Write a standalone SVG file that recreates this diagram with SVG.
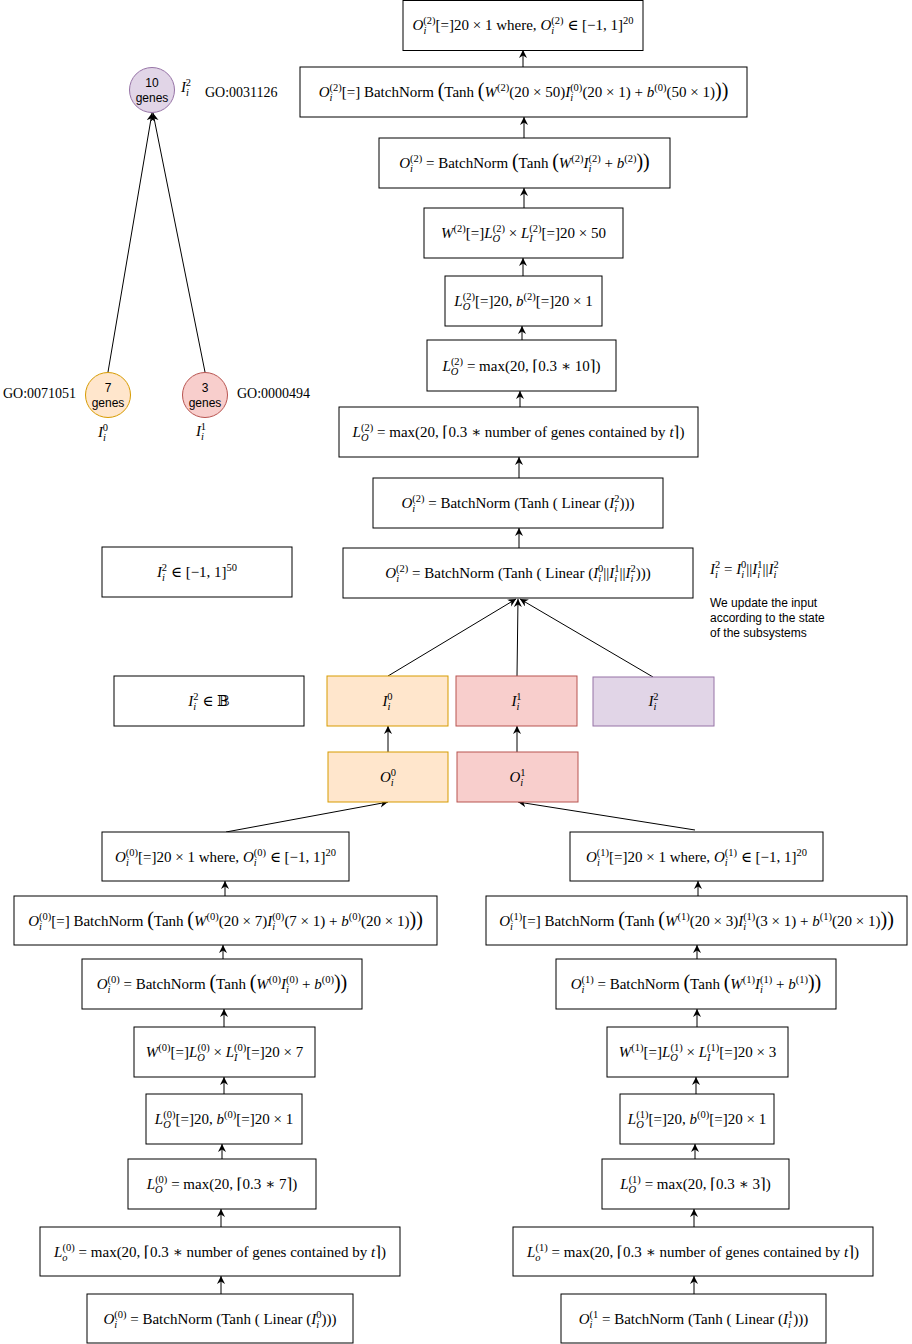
<svg xmlns="http://www.w3.org/2000/svg" width="912" height="1344" viewBox="0 0 912 1344">
<defs>
<marker id="a" markerWidth="10" markerHeight="10" refX="8" refY="4" orient="auto" markerUnits="userSpaceOnUse"><path d="M0,0 L8,4 L0,8 L2.5,4 Z" fill="#000"/></marker>
<style>
.b{fill:#fff;stroke:#000;stroke-width:1}
.m{font-family:"Liberation Serif","DejaVu Serif",serif;font-size:15px;fill:#000;text-anchor:middle}
.st{text-anchor:start}
.i{font-style:italic}
.s{font-size:10.5px}
.bp{font-size:20px}
.c{stroke:#000;stroke-width:1;fill:none;marker-end:url(#a)}
.h{font-family:"Liberation Sans",Arial,sans-serif;font-size:12px;fill:#000}
.g{font-family:"Liberation Serif","DejaVu Serif",serif;font-size:14px;fill:#000}
.or{fill:#ffe6cc;stroke:#d79b00;stroke-width:1}
.rd{fill:#f8cecc;stroke:#b85450;stroke-width:1}
.pu{fill:#e1d5e7;stroke:#9673a6;stroke-width:1}
</style>
</defs>
<rect width="912" height="1344" fill="#fff"/>

<g id="connectors">
<line class="c" x1="523" y1="67" x2="523" y2="50"/>
<line class="c" x1="524" y1="138" x2="524" y2="117"/>
<line class="c" x1="524" y1="208" x2="524" y2="188"/>
<line class="c" x1="523" y1="276" x2="523" y2="258"/>
<line class="c" x1="522" y1="340" x2="522" y2="326"/>
<line class="c" x1="520" y1="407" x2="520" y2="391"/>
<line class="c" x1="519" y1="478" x2="519" y2="457"/>
<line class="c" x1="519" y1="548" x2="519" y2="528"/>
<line class="c" x1="388" y1="676" x2="516" y2="599"/>
<line class="c" x1="517" y1="676" x2="518" y2="599"/>
<line class="c" x1="653" y1="677" x2="520" y2="599"/>
<line class="c" x1="388" y1="752" x2="388" y2="726"/>
<line class="c" x1="517" y1="752" x2="517" y2="726"/>
<line class="c" x1="226" y1="832" x2="388" y2="802"/>
<line class="c" x1="695" y1="830" x2="518" y2="802"/>
<line class="c" x1="108" y1="372" x2="152" y2="113"/>
<line class="c" x1="205" y1="372" x2="153" y2="113"/>
<line class="c" x1="225" y1="896" x2="225" y2="881"/>
<line class="c" x1="223" y1="959" x2="223" y2="945"/>
<line class="c" x1="224" y1="1027" x2="224" y2="1009"/>
<line class="c" x1="224" y1="1094" x2="224" y2="1077"/>
<line class="c" x1="222" y1="1159" x2="222" y2="1144"/>
<line class="c" x1="221" y1="1227" x2="221" y2="1209"/>
<line class="c" x1="221" y1="1294" x2="221" y2="1276"/>
<line class="c" x1="698" y1="896" x2="698" y2="881"/>
<line class="c" x1="697" y1="959" x2="697" y2="945"/>
<line class="c" x1="697" y1="1027" x2="697" y2="1009"/>
<line class="c" x1="696" y1="1094" x2="696" y2="1077"/>
<line class="c" x1="695" y1="1159" x2="695" y2="1144"/>
<line class="c" x1="694" y1="1227" x2="694" y2="1209"/>
<line class="c" x1="694" y1="1294" x2="694" y2="1276"/>
</g>

<g id="circle-go0031126">
<circle class="pu" cx="152" cy="90" r="22.5"/>
<text class="h" x="152" y="87" text-anchor="middle">10</text>
<text class="h" x="152" y="102" text-anchor="middle">genes</text>
<text class="m" x="186" y="92"><tspan class="i">I</tspan><tspan class="s i" dy="4">i</tspan><tspan class="s" dx="-3" dy="-10">2</tspan></text>
<text class="g" x="205" y="97">GO:0031126</text>
</g>
<g id="circle-go0071051">
<circle class="or" cx="108" cy="395" r="22.5"/>
<text class="h" x="108" y="392" text-anchor="middle">7</text>
<text class="h" x="108" y="407" text-anchor="middle">genes</text>
<text class="g" x="3" y="398">GO:0071051</text>
<text class="m" x="103" y="437"><tspan class="i">I</tspan><tspan class="s i" dy="4">i</tspan><tspan class="s" dx="-3" dy="-10">0</tspan></text>
</g>
<g id="circle-go0000494">
<circle class="rd" cx="205" cy="395" r="22.5"/>
<text class="h" x="205" y="392" text-anchor="middle">3</text>
<text class="h" x="205" y="407" text-anchor="middle">genes</text>
<text class="g" x="237" y="398">GO:0000494</text>
<text class="m" x="201" y="436"><tspan class="i">I</tspan><tspan class="s i" dy="4">i</tspan><tspan class="s" dx="-3" dy="-10">1</tspan></text>
</g>

<g id="t1">
<rect class="b" x="403" y="0.5" width="240" height="50"/>
<text class="m" x="523" y="30"><tspan class="i">O</tspan><tspan class="s i" dy="4">i</tspan><tspan class="s" dx="-3" dy="-10">(2)</tspan><tspan dy="6">[=]20 × 1 where, </tspan><tspan class="i">O</tspan><tspan class="s i" dy="4">i</tspan><tspan class="s" dx="-3" dy="-10">(2)</tspan><tspan dy="6"> ∈ [−1, 1]</tspan><tspan class="s" dy="-6">20</tspan></text>
</g>
<g id="t2">
<rect class="b" x="300" y="67" width="447" height="50"/>
<text class="m" x="523.5" y="97"><tspan class="i">O</tspan><tspan class="s i" dy="4">i</tspan><tspan class="s" dx="-3" dy="-10">(2)</tspan><tspan dy="6">[=] BatchNorm </tspan><tspan class="bp">(</tspan><tspan>Tanh </tspan><tspan class="bp">(</tspan><tspan class="i">W</tspan><tspan class="s" dy="-6">(2)</tspan><tspan dy="6">(20 × 50)</tspan><tspan class="i">I</tspan><tspan class="s i" dy="4">i</tspan><tspan class="s" dx="-3" dy="-10">(0)</tspan><tspan dy="6">(20 × 1) + </tspan><tspan class="i">b</tspan><tspan class="s" dy="-6">(0)</tspan><tspan dy="6">(50 × 1)</tspan><tspan class="bp">))</tspan></text>
</g>
<g id="t3">
<rect class="b" x="379" y="138" width="291" height="50"/>
<text class="m" x="524.5" y="168"><tspan class="i">O</tspan><tspan class="s i" dy="4">i</tspan><tspan class="s" dx="-3" dy="-10">(2)</tspan><tspan dy="6"> = BatchNorm </tspan><tspan class="bp">(</tspan><tspan>Tanh </tspan><tspan class="bp">(</tspan><tspan class="i">W</tspan><tspan class="s" dy="-6">(2)</tspan><tspan class="i" dy="6">I</tspan><tspan class="s i" dy="4">i</tspan><tspan class="s" dx="-3" dy="-10">(2)</tspan><tspan dy="6"> + </tspan><tspan class="i">b</tspan><tspan class="s" dy="-6">(2)</tspan><tspan class="bp" dy="6">))</tspan></text>
</g>
<g id="t4">
<rect class="b" x="424" y="208" width="199" height="50"/>
<text class="m" x="523.5" y="238"><tspan class="i">W</tspan><tspan class="s" dy="-6">(2)</tspan><tspan dy="6">[=]</tspan><tspan class="i">L</tspan><tspan class="s i" dy="4">O</tspan><tspan class="s" dx="-7.5" dy="-10">(2)</tspan><tspan dy="6"> × </tspan><tspan class="i">L</tspan><tspan class="s i" dy="4">I</tspan><tspan class="s" dx="-3.5" dy="-10">(2)</tspan><tspan dy="6">[=]20 × 50</tspan></text>
</g>
<g id="t5">
<rect class="b" x="445" y="276" width="157" height="50"/>
<text class="m" x="523.5" y="306"><tspan class="i">L</tspan><tspan class="s i" dy="4">O</tspan><tspan class="s" dx="-7.5" dy="-10">(2)</tspan><tspan dy="6">[=]20,  </tspan><tspan class="i">b</tspan><tspan class="s" dy="-6">(2)</tspan><tspan dy="6">[=]20 × 1</tspan></text>
</g>
<g id="t6">
<rect class="b" x="427" y="340" width="189" height="51"/>
<text class="m" x="521.5" y="370.5"><tspan class="i">L</tspan><tspan class="s i" dy="4">O</tspan><tspan class="s" dx="-7.5" dy="-10">(2)</tspan><tspan dy="6"> = max(20, ⌈0.3 ∗ 10⌉)</tspan></text>
</g>
<g id="t7">
<rect class="b" x="339" y="407" width="359" height="50"/>
<text class="m" x="518.5" y="437"><tspan class="i">L</tspan><tspan class="s i" dy="4">O</tspan><tspan class="s" dx="-7.5" dy="-10">(2)</tspan><tspan dy="6"> = max(20, ⌈0.3 ∗  number of genes contained by </tspan><tspan class="i">t</tspan><tspan>⌉)</tspan></text>
</g>
<g id="t8">
<rect class="b" x="373" y="478" width="290" height="50"/>
<text class="m" x="518" y="508"><tspan class="i">O</tspan><tspan class="s i" dy="4">i</tspan><tspan class="s" dx="-3" dy="-10">(2)</tspan><tspan dy="6"> = BatchNorm (Tanh ( Linear  (</tspan><tspan class="i">I</tspan><tspan class="s i" dy="4">i</tspan><tspan class="s" dx="-3" dy="-10">2</tspan><tspan dy="6">)))</tspan></text>
</g>
<g id="t9">
<rect class="b" x="343" y="548" width="350" height="50"/>
<text class="m" x="518" y="578"><tspan class="i">O</tspan><tspan class="s i" dy="4">i</tspan><tspan class="s" dx="-3" dy="-10">(2)</tspan><tspan dy="6"> = BatchNorm (Tanh ( Linear  (</tspan><tspan class="i">I</tspan><tspan class="s i" dy="4">i</tspan><tspan class="s" dx="-3" dy="-10">0</tspan><tspan dy="6">||</tspan><tspan class="i">I</tspan><tspan class="s i" dy="4">i</tspan><tspan class="s" dx="-3" dy="-10">1</tspan><tspan dy="6">||</tspan><tspan class="i">I</tspan><tspan class="s i" dy="4">i</tspan><tspan class="s" dx="-3" dy="-10">2</tspan><tspan dy="6">)))</tspan></text>
</g>

<g id="note">
<text class="m st" x="710" y="574"><tspan class="i">I</tspan><tspan class="s i" dy="4">i</tspan><tspan class="s" dx="-3" dy="-10">2</tspan><tspan dy="6"> = </tspan><tspan class="i">I</tspan><tspan class="s i" dy="4">i</tspan><tspan class="s" dx="-3" dy="-10">0</tspan><tspan dy="6">||</tspan><tspan class="i">I</tspan><tspan class="s i" dy="4">i</tspan><tspan class="s" dx="-3" dy="-10">1</tspan><tspan dy="6">||</tspan><tspan class="i">I</tspan><tspan class="s i" dy="4">i</tspan><tspan class="s" dx="-3" dy="-10">2</tspan></text>
<text class="h" x="710" y="607">We update the input</text>
<text class="h" x="710" y="622">according to the state</text>
<text class="h" x="710" y="637">of the subsystems</text>
</g>

<g id="i2-range">
<rect class="b" x="102" y="547" width="190" height="50"/>
<text class="m" x="197" y="577"><tspan class="i">I</tspan><tspan class="s i" dy="4">i</tspan><tspan class="s" dx="-3" dy="-10">2</tspan><tspan dy="6"> ∈ [−1, 1]</tspan><tspan class="s" dy="-6">50</tspan></text>
</g>
<g id="i2-bool">
<rect class="b" x="114" y="676" width="190" height="50"/>
<text class="m" x="209" y="706"><tspan class="i">I</tspan><tspan class="s i" dy="4">i</tspan><tspan class="s" dx="-3" dy="-10">2</tspan><tspan dy="6"> ∈ 𝔹</tspan></text>
</g>
<g id="box-i0">
<rect class="or" x="327" y="676" width="121" height="50"/>
<text class="m" x="387.5" y="706"><tspan class="i">I</tspan><tspan class="s i" dy="4">i</tspan><tspan class="s" dx="-3" dy="-10">0</tspan></text>
</g>
<g id="box-i1">
<rect class="rd" x="456" y="676" width="121" height="50"/>
<text class="m" x="516.5" y="706"><tspan class="i">I</tspan><tspan class="s i" dy="4">i</tspan><tspan class="s" dx="-3" dy="-10">1</tspan></text>
</g>
<g id="box-i2">
<rect class="pu" x="593" y="677" width="121" height="49"/>
<text class="m" x="653.5" y="706"><tspan class="i">I</tspan><tspan class="s i" dy="4">i</tspan><tspan class="s" dx="-3" dy="-10">2</tspan></text>
</g>
<g id="box-o0">
<rect class="or" x="328" y="752" width="120" height="50"/>
<text class="m" x="388" y="782"><tspan class="i">O</tspan><tspan class="s i" dy="4">i</tspan><tspan class="s" dx="-3" dy="-10">0</tspan></text>
</g>
<g id="box-o1">
<rect class="rd" x="457" y="752" width="121" height="50"/>
<text class="m" x="517.5" y="782"><tspan class="i">O</tspan><tspan class="s i" dy="4">i</tspan><tspan class="s" dx="-3" dy="-10">1</tspan></text>
</g>

<g id="l1">
<rect class="b" x="102" y="832" width="247" height="49"/>
<text class="m" x="225.5" y="861.5"><tspan class="i">O</tspan><tspan class="s i" dy="4">i</tspan><tspan class="s" dx="-3" dy="-10">(0)</tspan><tspan dy="6">[=]20 × 1 where, </tspan><tspan class="i">O</tspan><tspan class="s i" dy="4">i</tspan><tspan class="s" dx="-3" dy="-10">(0)</tspan><tspan dy="6"> ∈ [−1, 1]</tspan><tspan class="s" dy="-6">20</tspan></text>
</g>
<g id="l2">
<rect class="b" x="14" y="896" width="423" height="49"/>
<text class="m" x="225.5" y="925.5"><tspan class="i">O</tspan><tspan class="s i" dy="4">i</tspan><tspan class="s" dx="-3" dy="-10">(0)</tspan><tspan dy="6">[=] BatchNorm </tspan><tspan class="bp">(</tspan><tspan>Tanh </tspan><tspan class="bp">(</tspan><tspan class="i">W</tspan><tspan class="s" dy="-6">(0)</tspan><tspan dy="6">(20 × 7)</tspan><tspan class="i">I</tspan><tspan class="s i" dy="4">i</tspan><tspan class="s" dx="-3" dy="-10">(0)</tspan><tspan dy="6">(7 × 1) + </tspan><tspan class="i">b</tspan><tspan class="s" dy="-6">(0)</tspan><tspan dy="6">(20 × 1)</tspan><tspan class="bp">))</tspan></text>
</g>
<g id="l3">
<rect class="b" x="82" y="959" width="280" height="50"/>
<text class="m" x="222" y="989"><tspan class="i">O</tspan><tspan class="s i" dy="4">i</tspan><tspan class="s" dx="-3" dy="-10">(0)</tspan><tspan dy="6"> = BatchNorm </tspan><tspan class="bp">(</tspan><tspan>Tanh </tspan><tspan class="bp">(</tspan><tspan class="i">W</tspan><tspan class="s" dy="-6">(0)</tspan><tspan class="i" dy="6">I</tspan><tspan class="s i" dy="4">i</tspan><tspan class="s" dx="-3" dy="-10">(0)</tspan><tspan dy="6"> + </tspan><tspan class="i">b</tspan><tspan class="s" dy="-6">(0)</tspan><tspan class="bp" dy="6">))</tspan></text>
</g>
<g id="l4">
<rect class="b" x="134" y="1027" width="181" height="50"/>
<text class="m" x="224.5" y="1057"><tspan class="i">W</tspan><tspan class="s" dy="-6">(0)</tspan><tspan dy="6">[=]</tspan><tspan class="i">L</tspan><tspan class="s i" dy="4">O</tspan><tspan class="s" dx="-7.5" dy="-10">(0)</tspan><tspan dy="6"> × </tspan><tspan class="i">L</tspan><tspan class="s i" dy="4">I</tspan><tspan class="s" dx="-3.5" dy="-10">(0)</tspan><tspan dy="6">[=]20 × 7</tspan></text>
</g>
<g id="l5">
<rect class="b" x="146" y="1094" width="156" height="50"/>
<text class="m" x="224" y="1124"><tspan class="i">L</tspan><tspan class="s i" dy="4">O</tspan><tspan class="s" dx="-7.5" dy="-10">(0)</tspan><tspan dy="6">[=]20,  </tspan><tspan class="i">b</tspan><tspan class="s" dy="-6">(0)</tspan><tspan dy="6">[=]20 × 1</tspan></text>
</g>
<g id="l6">
<rect class="b" x="128" y="1159" width="188" height="50"/>
<text class="m" x="222" y="1189"><tspan class="i">L</tspan><tspan class="s i" dy="4">O</tspan><tspan class="s" dx="-7.5" dy="-10">(0)</tspan><tspan dy="6"> = max(20, ⌈0.3 ∗ 7⌉)</tspan></text>
</g>
<g id="l7">
<rect class="b" x="40" y="1227" width="360" height="49"/>
<text class="m" x="220" y="1256.5"><tspan class="i">L</tspan><tspan class="s i" dy="4">o</tspan><tspan class="s" dx="-5" dy="-10">(0)</tspan><tspan dy="6"> = max(20, ⌈0.3 ∗  number of genes contained by </tspan><tspan class="i">t</tspan><tspan>⌉)</tspan></text>
</g>
<g id="l8">
<rect class="b" x="87" y="1294" width="266" height="49"/>
<text class="m" x="220" y="1323.5"><tspan class="i">O</tspan><tspan class="s i" dy="4">i</tspan><tspan class="s" dx="-3" dy="-10">(0)</tspan><tspan dy="6"> = BatchNorm (Tanh ( Linear  (</tspan><tspan class="i">I</tspan><tspan class="s i" dy="4">i</tspan><tspan class="s" dx="-3" dy="-10">0</tspan><tspan dy="6">)))</tspan></text>
</g>

<g id="r1">
<rect class="b" x="570" y="832" width="253" height="49"/>
<text class="m" x="696.5" y="861.5"><tspan class="i">O</tspan><tspan class="s i" dy="4">i</tspan><tspan class="s" dx="-3" dy="-10">(1)</tspan><tspan dy="6">[=]20 × 1 where, </tspan><tspan class="i">O</tspan><tspan class="s i" dy="4">i</tspan><tspan class="s" dx="-3" dy="-10">(1)</tspan><tspan dy="6"> ∈ [−1, 1]</tspan><tspan class="s" dy="-6">20</tspan></text>
</g>
<g id="r2">
<rect class="b" x="486" y="896" width="421" height="49"/>
<text class="m" x="696.5" y="925.5"><tspan class="i">O</tspan><tspan class="s i" dy="4">i</tspan><tspan class="s" dx="-3" dy="-10">(1)</tspan><tspan dy="6">[=] BatchNorm </tspan><tspan class="bp">(</tspan><tspan>Tanh </tspan><tspan class="bp">(</tspan><tspan class="i">W</tspan><tspan class="s" dy="-6">(1)</tspan><tspan dy="6">(20 × 3)</tspan><tspan class="i">I</tspan><tspan class="s i" dy="4">i</tspan><tspan class="s" dx="-3" dy="-10">(1)</tspan><tspan dy="6">(3 × 1) + </tspan><tspan class="i">b</tspan><tspan class="s" dy="-6">(1)</tspan><tspan dy="6">(20 × 1)</tspan><tspan class="bp">))</tspan></text>
</g>
<g id="r3">
<rect class="b" x="556" y="959" width="280" height="50"/>
<text class="m" x="696" y="989"><tspan class="i">O</tspan><tspan class="s i" dy="4">i</tspan><tspan class="s" dx="-3" dy="-10">(1)</tspan><tspan dy="6"> = BatchNorm </tspan><tspan class="bp">(</tspan><tspan>Tanh </tspan><tspan class="bp">(</tspan><tspan class="i">W</tspan><tspan class="s" dy="-6">(1)</tspan><tspan class="i" dy="6">I</tspan><tspan class="s i" dy="4">i</tspan><tspan class="s" dx="-3" dy="-10">(1)</tspan><tspan dy="6"> + </tspan><tspan class="i">b</tspan><tspan class="s" dy="-6">(1)</tspan><tspan class="bp" dy="6">))</tspan></text>
</g>
<g id="r4">
<rect class="b" x="607" y="1027" width="181" height="50"/>
<text class="m" x="697.5" y="1057"><tspan class="i">W</tspan><tspan class="s" dy="-6">(1)</tspan><tspan dy="6">[=]</tspan><tspan class="i">L</tspan><tspan class="s i" dy="4">O</tspan><tspan class="s" dx="-7.5" dy="-10">(1)</tspan><tspan dy="6"> × </tspan><tspan class="i">L</tspan><tspan class="s i" dy="4">I</tspan><tspan class="s" dx="-3.5" dy="-10">(1)</tspan><tspan dy="6">[=]20 × 3</tspan></text>
</g>
<g id="r5">
<rect class="b" x="620" y="1094" width="154" height="50"/>
<text class="m" x="697" y="1124"><tspan class="i">L</tspan><tspan class="s i" dy="4">O</tspan><tspan class="s" dx="-7.5" dy="-10">(1)</tspan><tspan dy="6">[=]20,  </tspan><tspan class="i">b</tspan><tspan class="s" dy="-6">(0)</tspan><tspan dy="6">[=]20 × 1</tspan></text>
</g>
<g id="r6">
<rect class="b" x="602" y="1159" width="187" height="50"/>
<text class="m" x="695.5" y="1189"><tspan class="i">L</tspan><tspan class="s i" dy="4">O</tspan><tspan class="s" dx="-7.5" dy="-10">(1)</tspan><tspan dy="6"> = max(20, ⌈0.3 ∗ 3⌉)</tspan></text>
</g>
<g id="r7">
<rect class="b" x="513" y="1227" width="360" height="49"/>
<text class="m" x="693" y="1256.5"><tspan class="i">L</tspan><tspan class="s i" dy="4">o</tspan><tspan class="s" dx="-5" dy="-10">(1)</tspan><tspan dy="6"> = max(20, ⌈0.3 ∗  number of genes contained by </tspan><tspan class="i">t</tspan><tspan>⌉)</tspan></text>
</g>
<g id="r8">
<rect class="b" x="561" y="1294" width="265" height="49"/>
<text class="m" x="693.5" y="1323.5"><tspan class="i">O</tspan><tspan class="s i" dy="4">i</tspan><tspan class="s" dx="-3" dy="-10">(1</tspan><tspan dy="6"> = BatchNorm (Tanh ( Linear  (</tspan><tspan class="i">I</tspan><tspan class="s i" dy="4">i</tspan><tspan class="s" dx="-3" dy="-10">1</tspan><tspan dy="6">)))</tspan></text>
</g>
</svg>
